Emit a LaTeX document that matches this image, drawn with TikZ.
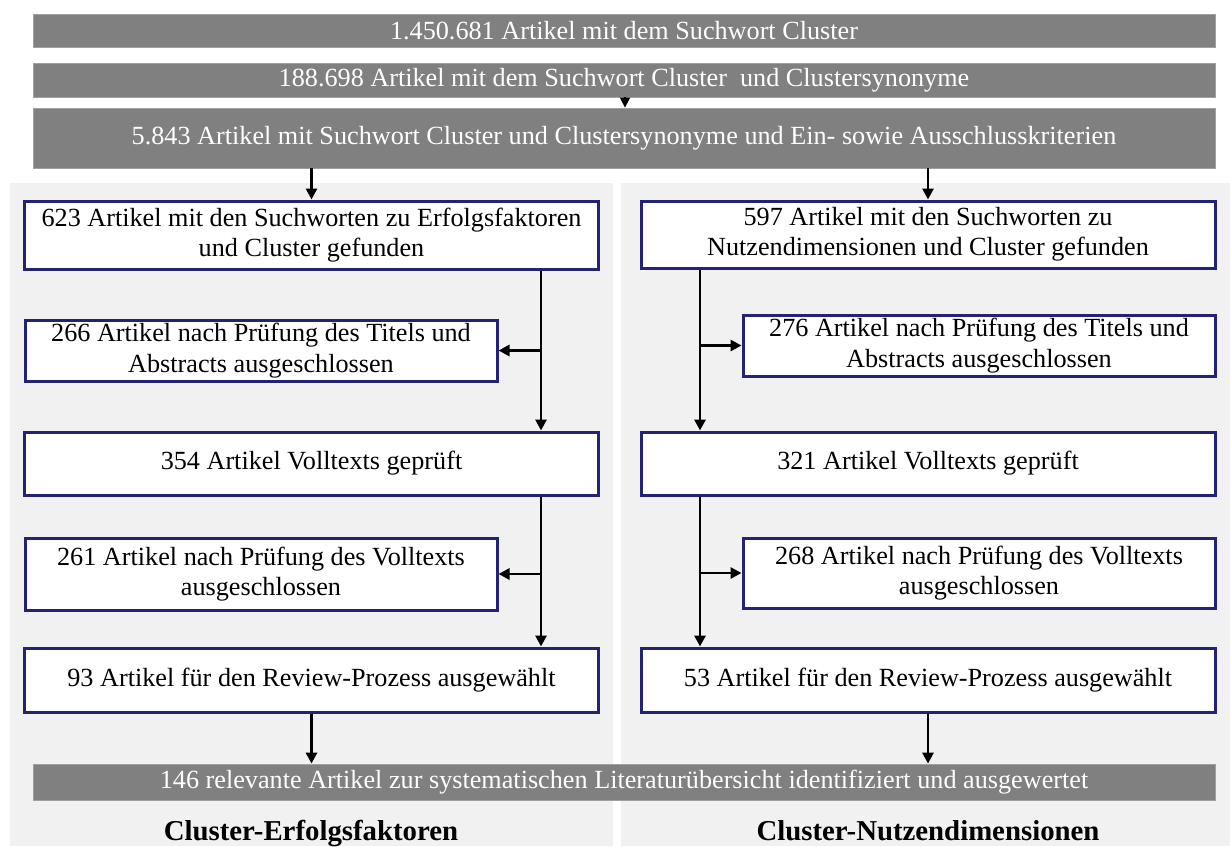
\documentclass[tikz,border=0pt]{standalone}
\usepackage{fontspec}
\setmainfont{Liberation Serif}
\usetikzlibrary{arrows.meta}
\definecolor{barGray}{RGB}{128,128,128}
\definecolor{panelGray}{RGB}{241,241,241}
\definecolor{boxBlue}{RGB}{36,34,116}
\begin{document}
\begin{tikzpicture}[x=0.5pt,y=-0.5pt,
  txt/.style={font=\fontsize{13.1}{15.2}\selectfont},
  bar/.style={txt, fill=barGray, draw=barGray!75!white, line width=0.4pt,
    inner sep=0pt, text=white, minimum width=591pt},
  stepbox/.style={txt, fill=white, draw=boxBlue, line width=1.5pt,
    inner sep=0pt, align=center},
  wide/.style={stepbox, minimum width=287pt},
  narrow/.style={stepbox, minimum width=236pt},
  flow/.style={draw=black, line width=1.4pt,
    -{Triangle[length=5.5pt,width=5.5pt]}},
  tick/.style={draw=black, line width=0.8pt,
    -{Triangle[length=5pt,width=5pt]}},
  caption/.style={font=\fontsize{14.4}{16}\selectfont\bfseries, anchor=base}]
\useasboundingbox (0,0) rectangle (1230,846);
\fill[white] (0,0) rectangle (1230,846);

% two shaded column panels
\fill[panelGray] (10,183) rectangle (613,846);
\fill[panelGray] (621,183) rectangle (1230,846);

% search funnel bars
\node[bar, minimum height=16.5pt] (bar1) at (624,30.5) {1.450.681 Artikel mit dem Suchwort Cluster};
\node[bar, minimum height=17pt] (bar2) at (624,80) {188.698 Artikel mit dem Suchwort Cluster\ \ und Clustersynonyme};
\node[bar, minimum height=30pt] (bar3) at (624,138) {5.843 Artikel mit Suchwort Cluster und Clustersynonyme und Ein- sowie Ausschlusskriterien};
\node[bar, minimum height=18pt] (bar4) at (624,782) {146 relevante Artikel zur systematischen Literaturübersicht identifiziert und ausgewertet};

% left column: success factors
\node[wide, minimum height=34pt] (lb1) at (311.5,235) {623 Artikel mit den Suchworten zu Erfolgsfaktoren\\und Cluster gefunden};
\node[narrow, minimum height=30.5pt] (lb2) at (261,350.5) {266 Artikel nach Prüfung des Titels und\\Abstracts ausgeschlossen};
\node[wide, minimum height=31.5pt] (lb3) at (311.5,463.5) {354 Artikel Volltexts geprüft};
\node[narrow, minimum height=36pt] (lb4) at (261,574) {261 Artikel nach Prüfung des Volltexts\\ausgeschlossen};
\node[wide, minimum height=32pt] (lb5) at (311.5,680) {93 Artikel für den Review-Prozess ausgewählt};

% right column: benefit dimensions
\node[wide, minimum height=33.5pt] (rb1) at (928,234.5) {597 Artikel mit den Suchworten zu\\Nutzendimensionen und Cluster gefunden};
\node[narrow, minimum height=30.5pt] (rb2) at (979,345.5) {276 Artikel nach Prüfung des Titels und\\Abstracts ausgeschlossen};
\node[wide, minimum height=31.5pt] (rb3) at (928,463.5) {321 Artikel Volltexts geprüft};
\node[narrow, minimum height=35pt] (rb4) at (979,573) {268 Artikel nach Prüfung des Volltexts\\ausgeschlossen};
\node[wide, minimum height=32pt] (rb5) at (928,680) {53 Artikel für den Review-Prozess ausgewählt};

% column captions
\node[caption] (capL) at (311,840) {Cluster-Erfolgsfaktoren};
\node[caption] (capR) at (928,840) {Cluster-Nutzendimensionen};

% trunk lines of the two columns
\coordinate (lx) at (541,0);
\coordinate (rx) at (700,0);
\coordinate (mx) at (625,0);

% connectors
\draw[tick] (bar2.south -| mx) -- (bar3.north -| mx);
\draw[flow] (lb1.north |- bar3.south) -- (lb1.north);
\draw[flow] (rb1.north |- bar3.south) -- (rb1.north);

\draw[flow] (lb1.south -| lx) -- (lb3.north -| lx);
\draw[flow] (lb2.east -| lx) -- (lb2.east);
\draw[flow] (lb3.south -| lx) -- (lb5.north -| lx);
\draw[flow] (lb4.east -| lx) -- (lb4.east);

\draw[flow] (rb1.south -| rx) -- (rb3.north -| rx);
\draw[flow] (rb2.west -| rx) -- (rb2.west);
\draw[flow] (rb3.south -| rx) -- (rb5.north -| rx);
\draw[flow] (rb4.west -| rx) -- (rb4.west);

\draw[flow] (lb5.south) -- (lb5.south |- bar4.north);
\draw[flow] (rb5.south) -- (rb5.south |- bar4.north);
\end{tikzpicture}
\end{document}
